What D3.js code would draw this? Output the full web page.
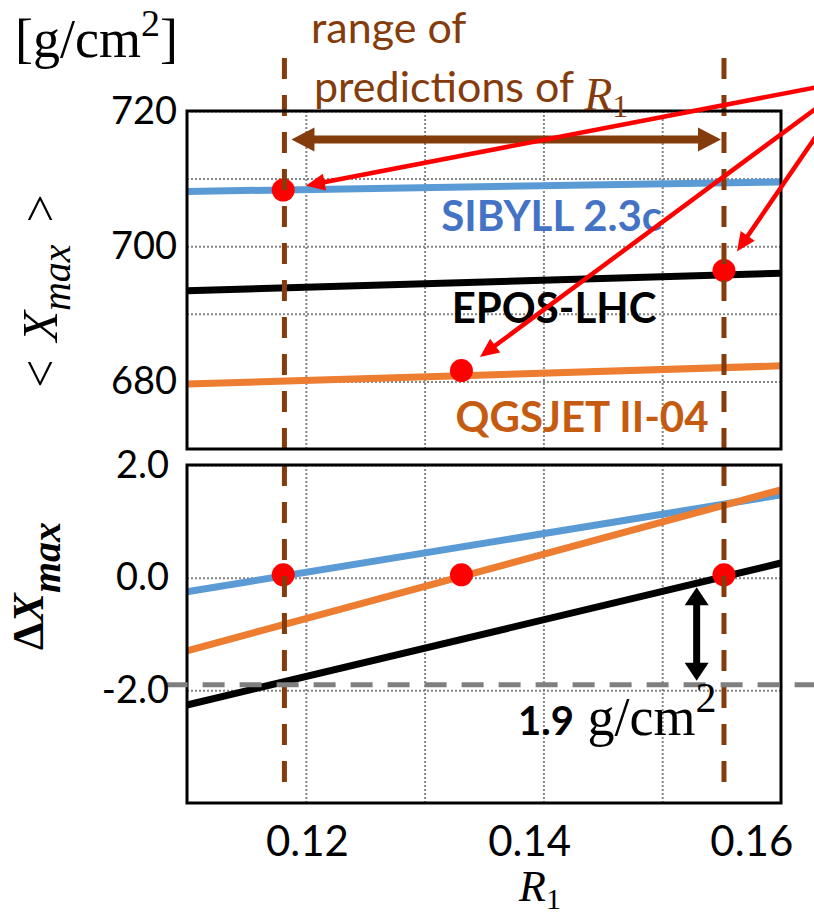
<!DOCTYPE html>
<html>
<head>
<meta charset="utf-8">
<script src="https://cdn.jsdelivr.net/npm/d3@7"></script>
<style>
  body { margin: 0; background: #fff; }
  svg { display: block; }
</style>
</head>
<body>
<svg id="chart" width="814" height="917"></svg>
<script>
// ---- data ----
const models = ["SIBYLL 2.3c", "EPOS-LHC", "QGSJET II-04"];
const r1Domain = [0.11, 0.16];
// <Xmax> [g/cm2] at R1 = 0.11 and R1 = 0.16
const meanXmaxEnds = [[708.1, 709.5], [693.4, 696.0], [679.6, 682.3]];
// Delta Xmax at R1 = 0.11 and R1 = 0.16
const deltaXmaxEnds = [[-0.25, 1.47], [-2.26, 0.26], [-1.30, 1.56]];
// matching points (Delta Xmax ~ 0)
const matchR1 = [0.1181, 0.1552, 0.1331];
const matchMeanXmax = [708.3, 696.4, 681.6];
const matchDelta = [0.05, 0.05, 0.05];
const predictionRange = [0.1182, 0.1552];
const offsetDelta = -1.9;
const offsetR1 = 0.1529;
const xTickValues = [0.12, 0.14, 0.16];
const xGridValues = [0.12, 0.13, 0.14, 0.15];
const upperTicks = [720, 700, 680];
const upperGrid = [720, 710, 700, 690, 680];
const lowerTicks = [2, 0, -2];
const lowerGrid = [2, 0, -2];

// ---- styles ----
const lineColor = ["#5b9bd5", "#000000", "#ed7d31"];
const labelColor = ["#4472c4", "#000000", "#c55a11"];
const labelAt = [[0.1407, 702.3], [0.1409, 688.6], [0.14325, 672.5]];
const brown = "#843c0c";
const SANS = "Lato, 'Open Sans', sans-serif";
const SERIF = "'Liberation Serif', 'DejaVu Serif', serif";

const svg = d3.select("#chart");

const x = d3.scaleLinear().domain(r1Domain).range([187, 781]);
const yU = d3.scaleLinear().domain([670, 720]).range([449, 111]);
const yL = d3.scaleLinear().domain([-4, 2]).range([803, 465]);
// tick labels in the figure are not sitting on the grid, they were placed by hand
const xLab = d3.scaleLinear().domain([0.12, 0.16]).range([x(0.1201), x(0.1575)]);

function grid(g, y, yValues) {
    const [y0, y1] = y.range();
    g.append("g")
        .attr("transform", `translate(0,${y0})`)
        .call(d3.axisBottom(x).tickValues(xGridValues).tickSize(-(y0 - y1)).tickFormat(""))
        .call(a => a.select(".domain").remove());
    g.append("g")
        .attr("transform", `translate(${x.range()[0]},0)`)
        .call(d3.axisLeft(y).tickValues(yValues).tickSize(-(x.range()[1] - x.range()[0])).tickFormat(""))
        .call(a => a.select(".domain").remove());
    g.selectAll(".tick line")
        .attr("stroke", "#858585")
        .attr("stroke-width", 2)
        .attr("stroke-dasharray", "2,2");
}

function arrow(g, p0, p1, o) {
    const dx = p1[0] - p0[0], dy = p1[1] - p0[1], len = Math.hypot(dx, dy);
    const ux = dx / len, uy = dy / len, nx = -uy, ny = ux;
    const head = (tip, dir) => {
        const bx = tip[0] - dir * ux * o.headLen, by = tip[1] - dir * uy * o.headLen;
        return [[tip[0], tip[1]], [bx + nx * o.headHalf, by + ny * o.headHalf], [bx - nx * o.headHalf, by - ny * o.headHalf]];
    };
    const cut = o.headLen - 2;
    const a = o.both ? [p0[0] + ux * cut, p0[1] + uy * cut] : p0;
    const b = [p1[0] - ux * cut, p1[1] - uy * cut];
    g.append("line")
        .attr("x1", a[0]).attr("y1", a[1]).attr("x2", b[0]).attr("y2", b[1])
        .attr("stroke", o.color).attr("stroke-width", o.width);
    g.append("path").attr("d", d3.line()(head(p1, 1)) + "Z").attr("fill", o.color);
    if (o.both) g.append("path").attr("d", d3.line()(head(p0, -1)) + "Z").attr("fill", o.color);
}

// ---- grids ----
const gGrid = svg.append("g");
grid(gGrid.append("g"), yU, upperGrid);
grid(gGrid.append("g"), yL, lowerGrid);

// ---- model lines ----
const upperLine = d3.line().x(d => x(d[0])).y(d => yU(d[1]));
const lowerLine = d3.line().x(d => x(d[0])).y(d => yL(d[1]));

svg.append("g").selectAll("path")
    .data(models)
    .join("path")
    .attr("d", (m, i) => upperLine([[r1Domain[0], meanXmaxEnds[i][0]], [r1Domain[1], meanXmaxEnds[i][1]]]))
    .attr("stroke", (m, i) => lineColor[i])
    .attr("stroke-width", 7)
    .attr("fill", "none");

svg.append("g").selectAll("path")
    .data(models)
    .join("path")
    .attr("d", (m, i) => lowerLine([[r1Domain[0], deltaXmaxEnds[i][0]], [r1Domain[1], deltaXmaxEnds[i][1]]]))
    .attr("stroke", (m, i) => lineColor[i])
    .attr("stroke-width", 7)
    .attr("fill", "none");

// model names
svg.append("g")
    .attr("font-family", SANS)
    .attr("font-weight", 700)
    .attr("font-size", 42)
    .attr("text-anchor", "middle")
    .selectAll("text")
    .data(models)
    .join("text")
    .attr("x", (m, i) => x(labelAt[i][0]))
    .attr("y", (m, i) => yU(labelAt[i][1]))
    .attr("fill", (m, i) => labelColor[i])
    .text(m => m);

// ---- matching points ----
svg.append("g").selectAll("circle")
    .data(models)
    .join("circle")
    .attr("cx", (m, i) => x(matchR1[i]))
    .attr("cy", (m, i) => yU(matchMeanXmax[i]))
    .attr("r", 11.5)
    .attr("fill", "#ff0000");

svg.append("g").selectAll("circle")
    .data(models)
    .join("circle")
    .attr("cx", (m, i) => x(matchR1[i]))
    .attr("cy", (m, i) => yL(matchDelta[i]))
    .attr("r", 11.5)
    .attr("fill", "#ff0000");

// ---- range of predictions (brown dashed) ----
svg.append("g").selectAll("line")
    .data(predictionRange)
    .join("line")
    .attr("x1", d => x(d)).attr("x2", d => x(d))
    .attr("y1", 58).attr("y2", 788)
    .attr("stroke", brown)
    .attr("stroke-width", 5)
    .attr("stroke-dasharray", "21,16");

// panel frames
svg.append("g").selectAll("rect")
    .data([yU, yL])
    .join("rect")
    .attr("x", x.range()[0])
    .attr("y", d => d.range()[1])
    .attr("width", x.range()[1] - x.range()[0])
    .attr("height", d => d.range()[0] - d.range()[1])
    .attr("fill", "none")
    .attr("stroke", "#000")
    .attr("stroke-width", 3);

// offset line at -1.9
svg.append("line")
    .attr("x1", x(0.1082)).attr("x2", x(0.1628))
    .attr("y1", yL(offsetDelta)).attr("y2", yL(offsetDelta))
    .attr("stroke", "#7f7f7f")
    .attr("stroke-width", 5)
    .attr("stroke-dasharray", "22,15");

// ---- arrows ----
const gArrow = svg.append("g");
arrow(gArrow, [x(offsetR1), yL(-0.1) + 4], [x(offsetR1), yL(offsetDelta) - 4],
    { color: "#000", width: 7, headLen: 18, headHalf: 12, both: true });
arrow(gArrow, [x(predictionRange[0]) + 7, yU(715.8)], [x(predictionRange[1]) - 3, yU(715.8)],
    { color: brown, width: 8, headLen: 23, headHalf: 12, both: true });

const source = [x(0.1662), yU(724.6)];
models.forEach((m, i) => {
    const t = [x(matchR1[i]), yU(matchMeanXmax[i])];
    const dx = t[0] - source[0], dy = t[1] - source[1], len = Math.hypot(dx, dy);
    const tip = [t[0] - dx / len * 23, t[1] - dy / len * 23];
    arrow(gArrow, source, tip, { color: "#ff0000", width: 4.5, headLen: 19, headHalf: 8.5, both: false });
});

// ---- axes tick labels ----
function tickText(a) {
    a.select(".domain").remove();
    a.selectAll("text").attr("font-family", SANS).attr("fill", "#000");
}

svg.append("g")
    .attr("transform", `translate(${x.range()[0]},0)`)
    .call(d3.axisLeft(yU).tickValues(upperTicks).tickSize(0).tickPadding(10).tickFormat(d3.format("d")))
    .call(tickText)
    .selectAll("text").attr("font-size", 38);

svg.append("g")
    .attr("transform", `translate(${x.range()[0]},0)`)
    .call(d3.axisLeft(yL).tickValues(lowerTicks).tickSize(0).tickPadding(18).tickFormat(d => d.toFixed(1)))
    .call(tickText)
    .selectAll("text").attr("font-size", 38);

svg.append("g")
    .attr("transform", `translate(0,${yL.range()[0]})`)
    .call(d3.axisBottom(xLab).tickValues(xTickValues).tickSize(0).tickFormat(d3.format(".2f")))
    .call(tickText)
    .selectAll("text").attr("font-size", 42).attr("y", 53).attr("dy", null);

// ---- titles ----
// x title R1
const xt = svg.append("text")
    .attr("x", 540).attr("y", 901)
    .attr("text-anchor", "middle")
    .attr("font-family", SERIF)
    .attr("font-size", 44)
    .attr("font-style", "italic");
xt.append("tspan").text("R");
xt.append("tspan").attr("font-size", 30).attr("font-style", "normal").attr("dy", 8).text("1");

// unit at top left
const unit = svg.append("text")
    .attr("x", 15).attr("y", 57)
    .attr("font-family", SERIF)
    .attr("font-size", 54);
unit.append("tspan").text("[g/cm");
unit.append("tspan").attr("font-size", 38).attr("dy", -21).text("2");
unit.append("tspan").attr("dy", 21).text("]");

// upper y title  < X_max >
const yt1 = svg.append("g").attr("transform", "translate(57,291) rotate(-90)")
    .append("text")
    .attr("text-anchor", "middle")
    .attr("font-family", SERIF)
    .attr("font-size", 50);
yt1.append("tspan").text("<");
yt1.append("tspan").attr("dx", 18).attr("font-style", "italic").text("X");
yt1.append("tspan").attr("dy", 13).attr("font-size", 40).attr("font-style", "italic").text("max");
yt1.append("tspan").attr("dx", 22).attr("dy", -13).text(">");

// lower y title  ΔX_max
const yt2 = svg.append("g").attr("transform", "translate(43,586) rotate(-90)")
    .append("text")
    .attr("text-anchor", "middle")
    .attr("font-family", SERIF)
    .attr("font-weight", 700)
    .attr("font-size", 44);
yt2.append("tspan").text("Δ");
yt2.append("tspan").attr("font-style", "italic").text("X");
yt2.append("tspan").attr("dy", 17).attr("font-size", 40).attr("font-style", "italic").text("max");

// range of predictions label
const rp = svg.append("g").attr("fill", brown).attr("font-size", 43);
rp.append("text").attr("x", 311).attr("y", 43).attr("font-family", SANS).text("range of");
const rp2 = rp.append("text").attr("x", 314).attr("y", 102).attr("font-family", SANS);
rp2.append("tspan").text("predictions of ");
rp2.append("tspan").attr("font-family", SERIF).attr("font-style", "italic").attr("font-size", 46).attr("dy", 8).text("R");
rp2.append("tspan").attr("font-family", SERIF).attr("font-size", 32).attr("dy", 7).text("1");

// 1.9 g/cm2
const off = svg.append("text").attr("x", 518).attr("y", 735).attr("fill", "#000");
off.append("tspan").attr("font-family", SANS).attr("font-weight", 700).attr("font-size", 40).text("1.9");
off.append("tspan").attr("font-family", SERIF).attr("font-size", 54).text(" g/cm");
off.append("tspan").attr("font-family", SERIF).attr("font-size", 42).attr("dy", -23).text("2");
</script>
</body>
</html>
